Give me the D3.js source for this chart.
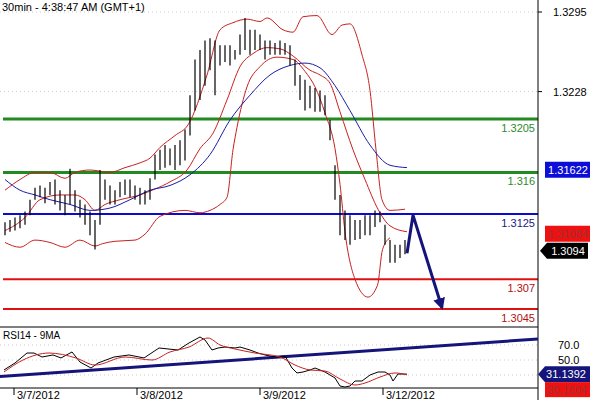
<!DOCTYPE html>
<html>
<head>
<meta charset="utf-8">
<script src="https://cdn.jsdelivr.net/npm/d3@7"></script>
<style>
  body { margin: 0; background: #fff; }
  svg { display: block; font-family: Arial, "Liberation Sans", sans-serif; }
</style>
</head>
<body>
<svg id="chart" width="590" height="400"></svg>
<script>
// 30-min bars, index 0..80 (highs / lows)
const highs = [1.3118,1.3120,1.3122,1.3124,1.3127,1.3137,1.3147,1.3149,1.3147,1.3152,
  1.3154,1.3145,1.3141,1.3163,1.3145,1.3137,1.3133,1.3127,1.3120,1.3162,
  1.3154,1.3149,1.3145,1.3152,1.3154,1.3154,1.3149,1.3147,1.3145,1.3155,
  1.3175,1.3179,1.3183,1.3180,1.3183,1.3187,1.3196,1.3225,1.3255,1.3263,
  1.3271,1.3273,1.3271,1.3267,1.3267,1.3267,1.3263,1.3276,1.3290,1.3280,
  1.3280,1.3276,1.3271,1.3271,1.3269,1.3271,1.3269,1.3267,1.3255,1.3242,
  1.3238,1.3233,1.3231,1.3229,1.3225,1.3204,1.3166,1.3141,1.3128,1.3124,
  1.3120,1.3120,1.3124,1.3124,1.3128,1.3127,1.3116,1.3103,1.3099,1.3099,1.3103];
const lows = [1.3107,1.3110,1.3111,1.3113,1.3116,1.3124,1.3137,1.3139,1.3134,1.3141,
  1.3133,1.3128,1.3124,1.3133,1.3127,1.3122,1.3116,1.3107,1.3095,1.3116,
  1.3137,1.3133,1.3133,1.3139,1.3141,1.3139,1.3137,1.3133,1.3133,1.3137,
  1.3154,1.3162,1.3164,1.3166,1.3162,1.3166,1.3170,1.3191,1.3212,1.3221,
  1.3233,1.3246,1.3225,1.3250,1.3253,1.3250,1.3255,1.3259,1.3263,1.3259,
  1.3263,1.3263,1.3255,1.3259,1.3259,1.3259,1.3259,1.3250,1.3233,1.3221,
  1.3212,1.3214,1.3211,1.3211,1.3208,1.3187,1.3137,1.3107,1.3103,1.3099,
  1.3103,1.3104,1.3107,1.3107,1.3114,1.3118,1.3099,1.3084,1.3084,1.3088,1.3091];

// Bollinger bands and moving average, sampled at bar positions
const upperIdx = [0,3,6,9,12,14,17,21,24,27,29,31,34,36.6,40.4,43,45.6,48.4,51,52.4,55.6,57.6,59.6,62.4,65.4,67.4,69,71.4,73,74.2,75.4,77,80];
const upperVal = [1.3145,1.3154,1.3160,1.3160,1.3155,1.3160,1.3162,1.3160,1.3164,1.3168,1.3172,1.3181,1.3191,1.3200,1.3242,1.3280,1.3286,1.3289,1.3287,1.3290,1.3280,1.3278,1.3291,1.3292,1.3276,1.3284,1.3285,1.3259,1.3229,1.3179,1.3137,1.3128,1.3129];
const midIdx = [0,4,7,11,14,16,18,20,23,27,30,33,36.4,39,41.6,44.4,47,49.6,52.4,55,57.6,61,63,65,67,69.6,72,74.6,77,80.4];
const midVal = [1.3111,1.3122,1.3137,1.3141,1.3141,1.3137,1.3128,1.3133,1.3137,1.3141,1.3146,1.3152,1.3162,1.3180,1.3193,1.3221,1.3249,1.3260,1.3265,1.3264,1.3258,1.3246,1.3242,1.3235,1.3211,1.3179,1.3154,1.3129,1.3115,1.3110];
const lowerIdx = [0,3,6,9,12,15,18,19.5,22,26,28,31,36,39,41,43,44.4,45.6,46.4,48.4,51,54.4,57.6,60,62,64,66,67,68,70,72.6,74.5,75.5,77];
const lowerVal = [1.3101,1.3097,1.3103,1.3101,1.3097,1.3103,1.3098,1.3100,1.3102,1.3103,1.3108,1.3123,1.3128,1.3126,1.3128,1.3133,1.3139,1.3179,1.3198,1.3232,1.3249,1.3257,1.3255,1.3245,1.3232,1.3210,1.3180,1.3150,1.3110,1.3070,1.3055,1.3065,1.3095,1.3105];
const maIdx = [0,3,6,9,13,17,21,25,29,33,37,41,45,49,53,57,60,63,66,69,73,77,80.4];
const maVal = [1.3154,1.3145,1.3141,1.3137,1.3133,1.3128,1.3130,1.3137,1.3145,1.3149,1.3158,1.3175,1.3204,1.3225,1.3242,1.3250,1.3252,1.3248,1.3233,1.3212,1.3183,1.3166,1.3164];

// support / resistance levels
const levels = [1.3205, 1.316, 1.3125, 1.307, 1.3045];
const levelLabels = ["1.3205", "1.316", "1.3125", "1.307", "1.3045"];
const levelColors = ["#218a21", "#218a21", "#0a0ad0", "#e01010", "#e01010"];
const levelTextColors = ["#2e8b2e", "#2e8b2e", "#1a1a80", "#b01010", "#b01010"];
const levelWidths = [3, 3, 2, 2, 2];

const priceTicks = [1.3295, 1.3228];
const arrowIdx = [80.4, 81.6, 87.4];
const arrowVal = [1.3092, 1.3124, 1.3046];

// RSI(14) and its 9-period MA
const rsiIdx = [-0.2,2,4.4,5.8,7.4,9.6,11.2,13.4,15,17.2,18.6,21.8,24.8,27.8,30.8,34.6,36.8,39,40,41.4,42.6,44,46,47,49,50.6,52,54,56,57.4,58.4,59.6,61,62,63,64,66,67,68,69,70,71.4,73,74.6,76,77,77.6,78.6,79.4,80.4];
const rsiVal = [36.7,46,59.3,59.3,54,56.7,52.7,60.7,47.3,39.3,46,54,56.7,52.7,66,63.3,72.7,80.7,76.7,63.3,66,67.3,66,67.3,63.3,59.3,56.7,54,55.3,39.3,32.7,34,36.7,39.3,36.7,34,26,15.3,14,15.3,22,22,30,34,34,30,22,31.3,31.3,31.14];
const rsiMaIdx = [-0.2,3.6,8.8,14.2,18,24,29.4,33,36.8,40.6,43,46,50,55,58,61,64,67,70,72,75,78,80.4];
const rsiMaVal = [34,50,59.3,52.7,43.3,54,50,60.7,67.3,79.3,70,64.7,59.3,54,43.3,36.7,35.3,24.7,16.7,19.3,27.3,32.7,30.16];
const rsiTrendIdx = [-1, 106.6];
const rsiTrendVal = [28, 78];
const rsiTicks = [70, 50];
const rsiGrid = [70, 50, 30];

const dateIdx = [1.8, 26.4, 51, 75.6];
const dateLabels = ["3/7/2012", "3/8/2012", "3/9/2012", "3/12/2012"];

const svg = d3.select("#chart");
const plotRight = 538;

const x = d3.scaleLinear().domain([0, 80]).range([5, 405]);
const y = d3.scaleLinear().domain([1.3045, 1.3295]).range([309, 12]);
const yr = d3.scaleLinear().domain([30, 70]).range([375, 345]);

const main = svg.append("g");
main.append("clipPath").attr("id", "clipMain")
  .append("rect").attr("x", 0).attr("y", 0).attr("width", plotRight).attr("height", 326);

// dotted grid
main.selectAll(".grid").data(priceTicks).join("line")
  .attr("x1", 0).attr("x2", plotRight)
  .attr("y1", d => y(d)).attr("y2", d => y(d))
  .attr("stroke", "#ccc").attr("stroke-dasharray", "1,3");

// levels
main.selectAll(".lvl").data(levels).join("line")
  .attr("x1", 3).attr("x2", plotRight)
  .attr("y1", d => y(d)).attr("y2", d => y(d))
  .attr("stroke", (d, i) => levelColors[i]).attr("stroke-width", (d, i) => levelWidths[i]);
main.selectAll(".lvlText").data(levels).join("text")
  .attr("x", 535).attr("y", d => y(d) + 13)
  .attr("text-anchor", "end").attr("font-size", 11)
  .attr("fill", (d, i) => levelTextColors[i]).text((d, i) => levelLabels[i]);

const line = (xs, vs, ys) => d3.line().curve(d3.curveMonotoneX)
  .x((d, i) => x(xs[i])).y(d => ys(d))(vs);

const g = main.append("g").attr("clip-path", "url(#clipMain)");
g.append("path").attr("d", line(upperIdx, upperVal, y)).attr("fill", "none").attr("stroke", "#c82020").attr("stroke-width", 1);
g.append("path").attr("d", line(midIdx, midVal, y)).attr("fill", "none").attr("stroke", "#c82020").attr("stroke-width", 1);
g.append("path").attr("d", line(lowerIdx, lowerVal, y)).attr("fill", "none").attr("stroke", "#c82020").attr("stroke-width", 1);
g.append("path").attr("d", line(maIdx, maVal, y)).attr("fill", "none").attr("stroke", "#1c1ca8").attr("stroke-width", 1);

// HL bars
g.selectAll(".bar").data(highs).join("line")
  .attr("x1", (d, i) => x(i)).attr("x2", (d, i) => x(i))
  .attr("y1", d => y(d)).attr("y2", (d, i) => y(lows[i]))
  .attr("stroke", "#000").attr("stroke-width", 1.2);

// arrow
svg.append("defs").append("marker").attr("id", "ah")
  .attr("viewBox", "0 0 10 10").attr("refX", 8).attr("refY", 5)
  .attr("markerWidth", 4).attr("markerHeight", 4).attr("orient", "auto")
  .append("path").attr("d", "M0,0L10,5L0,10Z").attr("fill", "#14147a");
main.append("path")
  .attr("d", d3.line().x((d, i) => x(arrowIdx[i])).y(d => y(d))(arrowVal))
  .attr("fill", "none").attr("stroke", "#14147a").attr("stroke-width", 3)
  .attr("marker-end", "url(#ah)");

// frames
svg.append("line").attr("x1", plotRight).attr("x2", plotRight).attr("y1", 0).attr("y2", 400).attr("stroke", "#000");
svg.append("line").attr("x1", 0).attr("x2", plotRight).attr("y1", 327).attr("y2", 327).attr("stroke", "#000");
svg.append("line").attr("x1", 0).attr("x2", plotRight).attr("y1", 388).attr("y2", 388).attr("stroke", "#000");

// title
svg.append("text").attr("x", 2).attr("y", 11).attr("font-size", 11).text("30min - 4:38:47 AM (GMT+1)");

// right price axis
svg.selectAll(".pt").data(priceTicks).join("text")
  .attr("x", 553).attr("y", d => y(d) + 4).attr("font-size", 11).text(d => d.toFixed(4));
svg.selectAll(".ptk").data(priceTicks).join("line")
  .attr("x1", plotRight).attr("x2", plotRight + 4).attr("y1", d => y(d)).attr("y2", d => y(d)).attr("stroke", "#000");

// price badges
const badge = (val, txt, bg, fg, pointed) => {
  const cy = y(val);
  const path = pointed
    ? `M540,${cy}L547,${cy - 8}L588,${cy - 8}L588,${cy + 8}L547,${cy + 8}Z`
    : `M545,${cy - 8}L590,${cy - 8}L590,${cy + 8}L545,${cy + 8}Z`;
  svg.append("path").attr("d", path).attr("fill", bg);
  svg.append("text").attr("x", 568).attr("y", cy + 4).attr("text-anchor", "middle")
    .attr("font-size", 11).attr("fill", fg).text(txt);
};
badge(1.31622, "1.31622", "#0d0dd8", "#fff", false);
badge(1.31084, "1.31084", "#ee1111", "#a03030", false);
badge(1.3094, "1.3094", "#000", "#fff", true);

// RSI panel
const rp = svg.append("g");
rp.append("clipPath").attr("id", "clipRsi")
  .append("rect").attr("x", 0).attr("y", 328).attr("width", plotRight).attr("height", 60);
rp.selectAll(".rg").data(rsiGrid).join("line")
  .attr("x1", 0).attr("x2", plotRight).attr("y1", d => yr(d)).attr("y2", d => yr(d))
  .attr("stroke", "#ccc").attr("stroke-dasharray", "1,3");
const rg = rp.append("g").attr("clip-path", "url(#clipRsi)");
rg.append("path").attr("d", d3.line().x((d, i) => x(rsiTrendIdx[i])).y(d => yr(d))(rsiTrendVal))
  .attr("stroke", "#14147a").attr("stroke-width", 3).attr("fill", "none");
rg.append("path").attr("d", d3.line().x((d, i) => x(rsiIdx[i])).y(d => yr(d))(rsiVal))
  .attr("stroke", "#000").attr("stroke-width", 1).attr("fill", "none");
rg.append("path").attr("d", line(rsiMaIdx, rsiMaVal, yr))
  .attr("stroke", "#c82020").attr("stroke-width", 1).attr("fill", "none");
rp.append("text").attr("x", 3).attr("y", 339).attr("font-size", 10).text("RSI14 - 9MA");
rp.selectAll(".rt").data(rsiTicks).join("text")
  .attr("x", 558).attr("y", d => yr(d) + 4).attr("font-size", 11).text(d => d.toFixed(1));

// RSI badges
const ry1 = yr(31.1392);
rp.append("path").attr("d", `M538,${ry1}L545,${ry1 - 8}L590,${ry1 - 8}L590,${ry1 + 8}L545,${ry1 + 8}Z`).attr("fill", "#14147a");
rp.append("text").attr("x", 566).attr("y", ry1 + 4).attr("text-anchor", "middle").attr("font-size", 11).attr("fill", "#fff").text("31.1392");
rp.append("rect").attr("x", 545).attr("y", ry1 + 8).attr("width", 45).attr("height", 15).attr("fill", "#ee1111");
rp.append("text").attr("x", 567).attr("y", ry1 + 20).attr("text-anchor", "middle").attr("font-size", 11).attr("fill", "#a03030").text("30.1604");

// date axis
svg.selectAll(".dt").data(dateIdx).join("line")
  .attr("x1", d => x(d)).attr("x2", d => x(d)).attr("y1", 388).attr("y2", 395).attr("stroke", "#000");
svg.selectAll(".dl").data(dateIdx).join("text")
  .attr("x", d => x(d) + 3).attr("y", 399).attr("font-size", 11)
  .text((d, i) => dateLabels[i]);
</script>
</body>
</html>
